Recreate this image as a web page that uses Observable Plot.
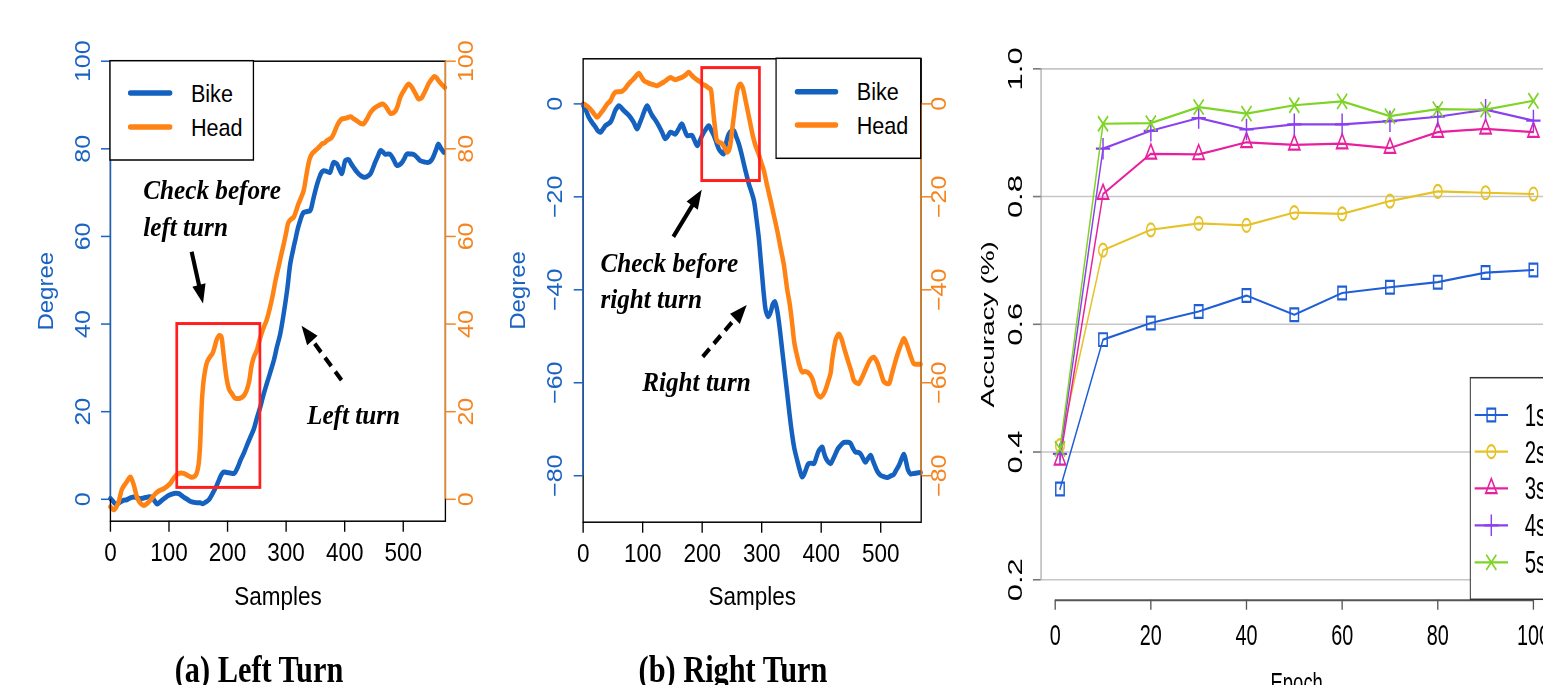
<!DOCTYPE html>
<html><head><meta charset="utf-8">
<script src="https://cdn.jsdelivr.net/npm/d3@7"></script>
<script src="https://cdn.jsdelivr.net/npm/@observablehq/plot@0.6"></script>
<style>
html,body{margin:0;padding:0;background:#fff;}
body{width:1543px;height:685px;overflow:hidden;position:relative;font-family:"Liberation Sans",Arial,Helvetica,sans-serif;}
.panel{position:absolute;top:0;transform-origin:0 0;}
.cap{position:absolute;top:651px;font-family:"Liberation Serif","Times New Roman",serif;font-weight:bold;font-size:37px;line-height:1;white-space:nowrap;transform:translateX(-50%) scaleX(0.82);}
</style></head><body>
<div id="pa" class="panel"></div>
<div id="pb" class="panel"></div>
<div id="pc" class="panel"></div>
<div class="cap" style="left:259px">(a) Left Turn</div>
<div class="cap" style="left:733px">(b) Right Turn</div>
<script>
// ================= DATA =================
const seriesAB = ["Bike", "Head"];
const sampleTicks = [0, 100, 200, 300, 400, 500];
const degreeTicksA = [0, 20, 40, 60, 80, 100];
const degreeTicksB = [-80, -60, -40, -20, 0];
const xDomainA = [0, 572], yDomainA = [-5, 100];
const xDomainB = [0, 568], yDomainB = [-90, 9.7];

// (a) Left turn: [sample, degree]
const bikeA = [[0,0.2],[4,-0.4],[8,-1],[13,-0.9],[17,-0.6],[23,-0.2],[28,-0.1],[34,0.3],[40,0.5],[46,0.3],[51,0.15],[57,0.3],[63,0.5],[67,0.6],[71,0.5],[75,-0.3],[80,-1.1],[84,-0.7],[88,-0.2],[94,0.4],[100,0.9],[105,1.2],[111,1.4],[117,1.3],[121,0.9],[125,0.5],[131,0],[137,-0.5],[143,-0.7],[148,-0.8],[153,-0.8],[158,-1],[163,-0.6],[168,-0.1],[172,0.7],[176,1.7],[181,3],[185,4.3],[189,5.5],[193,6.2],[199,6.1],[205,6],[211,5.9],[217,7.2],[222,8.9],[228,10.6],[233,12.3],[239,14.2],[245,16.1],[250,18.5],[256,21.1],[261,23.7],[267,26.4],[273,29],[279,31.7],[284,34.6],[290,37.8],[296,42.5],[302,48],[307,53.7],[312,57],[316,59.4],[320,61.8],[324,63.6],[327,64.8],[330,65.5],[336,65.7],[341,65.9],[346,68.3],[350,70.5],[354,72.4],[358,73.9],[361,74.7],[364,75],[370,74.8],[375,74.6],[378,75.8],[381,76.9],[384,76.8],[387,76.5],[391,75.3],[395,74.3],[398,75.7],[401,77.3],[404,77.5],[407,77.5],[411,76.6],[415,75.8],[421,74.7],[427,73.9],[431,73.6],[435,73.5],[440,73.8],[444,74.3],[448,75.5],[452,76.9],[457,78.4],[461,79.6],[465,79.3],[469,78.8],[474,78.8],[478,78.7],[484,77.4],[489,76.2],[494,76.4],[498,76.9],[502,77.8],[506,78.8],[512,78.8],[518,78.7],[524,78],[529,77.3],[536,77],[543,76.9],[548,77.4],[552,78.4],[556,79.8],[560,81.1],[564,80.2],[569,79.2]];
const headA = [[0,-1.7],[6,-2.4],[13,-1],[20,2.4],[28,4],[34,5.1],[40,3.2],[46,0.2],[52,-1],[57,-1.4],[63,-0.9],[68,-0.2],[77,1.3],[84,2],[91,2.4],[97,3],[102,3.6],[108,4.8],[114,5.7],[120,6],[125,5.9],[131,5.5],[137,5.1],[142,5.1],[146,5.6],[150,7.5],[153,12],[155,18.8],[157,24],[160,28],[165,31.3],[170,32.5],[174,33.2],[178,34.8],[182,36.6],[186,37.4],[189,37.2],[192,34.5],[195,31],[199,27.1],[203,25],[208,24],[212,23.2],[216,23],[222,23.1],[228,23.7],[233,25],[237,27],[241,30.5],[245,32.5],[250,34],[254,36],[258,37.8],[262,39.3],[267,41],[272,43.5],[277,46.5],[282,50],[287,53],[292,56],[296,58.3],[300,60.8],[304,63.2],[309,64],[313,64.4],[317,65.8],[321,67.4],[326,69],[330,70.5],[334,73.5],[338,76.5],[341,78],[345,79],[349,79.5],[353,80],[357,80.5],[361,81.1],[365,81.3],[370,81.9],[374,82.2],[378,82.6],[383,84],[387,85.3],[391,86.2],[395,86.8],[402,87],[410,87.3],[416,86.8],[421,86.4],[427,85.8],[432,85.7],[438,86.8],[444,88.3],[451,89.3],[458,89.9],[466,90.2],[472,89.3],[478,88.1],[483,88.2],[487,88.7],[491,90],[495,91.8],[502,93.5],[509,94.8],[514,94.2],[518,93.3],[522,92.3],[526,91.4],[531,91.6],[535,92.5],[539,93.6],[543,94.8],[548,95.8],[553,96.5],[557,96.2],[560,95.6],[565,94.8],[571,94]];

// (b) Right turn: [sample, degree]
const bikeB = [[0,-0.3],[5,-1.5],[9.5,-2.9],[15,-4],[20.7,-5],[25,-5.8],[29,-6.1],[33,-5.5],[37.5,-4.7],[42,-4.3],[46,-3.9],[50,-2.8],[54,-1.4],[57,-0.8],[60,-0.4],[64,-0.8],[68,-1.4],[74,-2.1],[79.5,-2.9],[85,-4],[90.8,-5.4],[95,-4.2],[99,-2.9],[103,-1.5],[107.6,-0.4],[112,-1.5],[116,-2.5],[122,-3.6],[127,-4.7],[133,-6.2],[138,-7.5],[142,-7],[146.8,-6.1],[151,-6.3],[155,-6.5],[160,-5.5],[166,-4.3],[170,-5.5],[174.8,-6.8],[179,-6.8],[183,-6.8],[187,-7.8],[191.6,-9],[196,-8],[200,-6.8],[205,-5.7],[211,-4.7],[215,-5.6],[219.6,-6.8],[224,-8.3],[228,-9.7],[232,-10.4],[236,-10.8],[240,-8.5],[244.8,-6.5],[249,-5.8],[253,-5.7],[257,-7],[261.6,-8.6],[266,-10.7],[270,-12.9],[274,-15],[278.4,-17.2],[283,-19],[287,-20.8],[291,-24.5],[295,-28.7],[298,-33],[301,-37.3],[304,-41.5],[307,-44.5],[311,-45.8],[315,-44.8],[319,-43],[322,-42.5],[326,-44.4],[330,-48],[334.5,-53],[339,-58],[343,-62.4],[347,-67],[351,-71],[355,-74.2],[359.7,-76.7],[364,-78.8],[368,-80.3],[371,-79.8],[373.7,-78.9],[379,-77.4],[384,-77.3],[387.7,-77.4],[392,-76],[396,-74.6],[401.7,-73.8],[404,-74.8],[407,-76],[411,-76.9],[415.7,-77.4],[420,-76.4],[424,-75.3],[428,-74.2],[432.5,-73.5],[437,-72.9],[441,-72.8],[445,-72.8],[449,-73],[453,-74],[457.7,-74.9],[462,-75],[466,-75.3],[470,-76.2],[474.5,-77.1],[479,-76.2],[483,-75.6],[487,-76.8],[491,-78.1],[495,-79.2],[499.7,-79.9],[505,-80.2],[511,-80.4],[516,-80.1],[522,-79.7],[526,-78.8],[530.5,-77.8],[535,-76.4],[539,-75.4],[543,-77.2],[546,-78.8],[550,-79.6],[556,-79.5],[561,-79.4],[567,-79.3]];
const headB = [[0,0],[6,-0.4],[12,-1.1],[18,-2.1],[23.5,-2.9],[29,-2.1],[35,-1.1],[40,-0.1],[46,0.7],[50,1.8],[54,2.5],[60,2.6],[65,2.7],[70,3.2],[74,3.9],[80,4.8],[85,5.4],[89,6],[93.6,6.6],[98,5.8],[102,5],[108,4.6],[113,4.3],[119,4.1],[124,3.9],[130,4.3],[135.6,4.7],[141,5.2],[147,5.7],[151,5.4],[155,5.2],[161,5.5],[166,5.7],[172,6.2],[177.6,6.8],[182,6.2],[186,5.7],[192,5.1],[197,4.7],[201,4.2],[206,3.9],[210,3.5],[214,3.2],[217,0.5],[219.6,-2.9],[222,-5.5],[225,-7.9],[229,-8.3],[233.6,-8.6],[238,-9.5],[242,-10.4],[245,-10],[247.6,-8.6],[250,-6],[253,-2.9],[256,0.2],[259,2.9],[262,4],[264.4,4.3],[268,3.5],[273,0.7],[277,-1.8],[281,-4.3],[285,-6.8],[289.6,-9],[295,-10.8],[299,-12.5],[303.6,-14.3],[309,-17.5],[315,-20.8],[320,-23.7],[326,-27.2],[331,-30.5],[337,-34.4],[343,-40],[347,-43],[351,-47],[355,-51.5],[360,-54.5],[364,-56.5],[368,-57.7],[372,-57.6],[376.5,-57.7],[381,-58.2],[385,-59.1],[389,-60.8],[393,-62.4],[399,-63.1],[403,-62.6],[407,-61.6],[411,-60],[415.7,-58],[418,-55.5],[421,-53],[425,-50.5],[429.7,-49.5],[434,-50.5],[438,-52.3],[442,-54],[446.5,-55.9],[451,-57.7],[455,-59.5],[459,-60],[463,-60.2],[467,-59.3],[471.7,-58],[476,-56.7],[480,-55.6],[484,-54.8],[488.5,-54.5],[493,-55.3],[497,-56.6],[501,-58.2],[505,-59.7],[509,-60.1],[513.7,-60.2],[518,-58.5],[522,-56.6],[526,-54.8],[530.5,-53],[535,-51.5],[539,-50.5],[543,-51.5],[547,-53],[551,-54.5],[555.7,-55.9],[561,-56],[567,-56]];

// annotations (data units)
const boxA = [{x1: 114, x2: 256, y1: 2.6, y2: 40}];
const boxB = [{x1: 200, x2: 297, y1: -16.6, y2: 7.7}];
const notesA = [{x: 56, y: 68.6, text: "Check before"}, {x: 56, y: 60.2, text: "left turn"}, {x: 335.7, y: 17.1, text: "Left turn"}];
const notesB = [{x: 29, y: -36.2, text: "Check before"}, {x: 29, y: -44, text: "right turn"}, {x: 99.2, y: -61.8, text: "Right turn"}];
const arrowsA = [{x1: 139.4, y1: 56.4, x2: 158.9, y2: 44.6, dashed: false}, {x1: 395.4, y1: 27.1, x2: 327.1, y2: 39.5, dashed: true}];
const arrowsB = [{x1: 152.3, y1: -28.7, x2: 200, y2: -18.6, dashed: false}, {x1: 201.7, y1: -54.5, x2: 275.6, y2: -43.4, dashed: true}];

// (c) accuracy vs epoch
const windows = ["1s", "2s", "3s", "4s", "5s"];
const epochs = [1, 10, 20, 30, 40, 50, 60, 70, 80, 90, 100];
const acc1s = [0.342, 0.576, 0.602, 0.620, 0.645, 0.615, 0.649, 0.658, 0.666, 0.681, 0.685];
const acc2s = [0.410, 0.716, 0.748, 0.758, 0.755, 0.775, 0.773, 0.793, 0.808, 0.806, 0.804];
const acc3s = [0.388, 0.804, 0.867, 0.866, 0.885, 0.881, 0.883, 0.876, 0.901, 0.906, 0.901];
const acc4s = [0.397, 0.875, 0.903, 0.923, 0.905, 0.913, 0.913, 0.918, 0.925, 0.936, 0.919];
const acc5s = [0.405, 0.914, 0.915, 0.940, 0.930, 0.943, 0.949, 0.926, 0.937, 0.936, 0.950];
const epochTicks = [0, 20, 40, 60, 80, 100];
const accTicks = [0.2, 0.4, 0.6, 0.8, 1.0];
const xDomainC = [-2.96, 103.96], yDomainC = [0.168, 1.032];

// ================= STYLE =================
const FONT = '"Liberation Sans", Arial, Helvetica, sans-serif';
const SERIF = '"Liberation Serif", "Times New Roman", serif';
const BIKE = "#1561bf", HEAD = "#ff8314", AXBLUE = "#1a63c2", AXORANGE = "#f5841f", RED = "#ff1f1f";
const COLORS_C = ["#1f5ed6", "#e6c229", "#e8209e", "#8a40ef", "#7dd424"];
const SYM_NAMES = ["square", "circle", "triangle2", "plus", "times"];
const SYM_D3 = [d3.symbolSquare, d3.symbolCircle, d3.symbolTriangle2, d3.symbolPlus, d3.symbolTimes];
const SYM_R = [7.2, 6.5, 8, 7, 7];
const SQ_AB = 0.9, SQ_C = 0.66;
const H = 685;
const fmt = d => (d < 0 ? "\u2212" + Math.abs(d) : String(d));

function arrowsMark(data) {
  return (index, scales) => {
    const g = d3.create("svg:g");
    for (const a of data) {
      const x1 = scales.x(a.x1), y1 = scales.y(a.y1), x2 = scales.x(a.x2), y2 = scales.y(a.y2);
      const ang = Math.atan2(y2 - y1, x2 - x1);
      const hl = 19, hw = 7.5;
      const bx = x2 - hl * Math.cos(ang), by = y2 - hl * Math.sin(ang);
      const px = -Math.sin(ang), py = Math.cos(ang);
      g.append("line").attr("x1", x1).attr("y1", y1).attr("x2", bx + 2 * Math.cos(ang)).attr("y2", by + 2 * Math.sin(ang))
        .attr("stroke", "black").attr("stroke-width", 4.5)
        .attr("stroke-dasharray", a.dashed ? "11,7" : null);
      g.append("path").attr("d", `M${x2},${y2}L${bx + hw * px},${by + hw * py}L${bx - hw * px},${by - hw * py}Z`).attr("fill", "black");
    }
    return g.node();
  };
}

function lineLegend(spec) {
  return (index, scales, values, dim) => {
    const g = d3.create("svg:g");
    const bx = spec.right ? dim.width - dim.marginRight - spec.w : dim.marginLeft;
    const by = dim.marginTop;
    g.append("rect").attr("x", bx).attr("y", by).attr("width", spec.w).attr("height", spec.h)
      .attr("fill", "white").attr("stroke", "black").attr("stroke-width", 1.5);
    seriesAB.forEach((name, i) => {
      const y = by + spec.rows[i];
      g.append("line").attr("x1", bx + spec.lx1).attr("x2", bx + spec.lx2).attr("y1", y).attr("y2", y)
        .attr("stroke", [BIKE, HEAD][i]).attr("stroke-width", 5.5).attr("stroke-linecap", "round");
      g.append("text").attr("x", bx + spec.tx).attr("y", y).attr("dy", "0.36em").attr("text-anchor", "start")
        .attr("font-size", 24).attr("fill", "black").text(name);
    });
    return g.node();
  };
}

function turnPanel(o) {
  return Plot.plot({
    width: o.width, height: H,
    marginLeft: o.left, marginRight: o.width - o.right, marginTop: o.top, marginBottom: H - o.bottom,
    x: {domain: o.xDomain}, y: {domain: o.yDomain},
    style: {background: "transparent", maxWidth: "none", overflow: "visible", fontFamily: FONT, color: "black"},
    marks: [
      Plot.line(o.bike, {x: d => d[0], y: d => d[1], stroke: BIKE, strokeWidth: 5, curve: "catmull-rom", strokeLinejoin: "round", strokeLinecap: "round"}),
      Plot.line(o.head, {x: d => d[0], y: d => d[1], stroke: HEAD, strokeWidth: 5, curve: "catmull-rom", strokeLinejoin: "round", strokeLinecap: "round"}),
      Plot.rect(o.box, {x1: "x1", x2: "x2", y1: "y1", y2: "y2", fill: "none", stroke: RED, strokeWidth: 3}),
      arrowsMark(o.arrows),
      Plot.text(o.notes, {x: "x", y: "y", text: "text", textAnchor: "start", lineAnchor: "bottom", fontFamily: SERIF, fontWeight: "bold", fontStyle: "italic", fontSize: 28, fill: "black"}),
      Plot.frame({stroke: "black", strokeWidth: 1.5}),
      Plot.ruleX([o.xDomain[0]], {y1: o.yTicks[0], y2: o.yTicks[o.yTicks.length - 1], stroke: AXBLUE, strokeWidth: 1.5}),
      Plot.ruleX([o.xDomain[1]], {y1: o.yTicks[0], y2: o.yTicks[o.yTicks.length - 1], stroke: AXORANGE, strokeWidth: 1.5}),
      Plot.axisY({anchor: "left", ticks: o.yTicks, tickSize: 10, stroke: AXBLUE, strokeWidth: 1.5, fill: "none", label: null}),
      Plot.axisY({anchor: "right", ticks: o.yTicks, tickSize: 11, stroke: AXORANGE, strokeWidth: 1.5, fill: "none", label: null}),
      Plot.text(o.yTicks, {y: d => d, text: fmt, frameAnchor: "left", dx: o.leftDx, rotate: -90, fill: AXBLUE, fontSize: 25, textAnchor: "middle", lineAnchor: "middle"}),
      Plot.text(o.yTicks, {y: d => d, text: fmt, frameAnchor: "right", dx: o.rightDx, rotate: -90, fill: AXORANGE, fontSize: 25, textAnchor: "middle", lineAnchor: "middle"}),
      Plot.axisX({ticks: sampleTicks, tickSize: 11, tickPadding: 11, fontSize: 25, strokeWidth: 1.5, label: null}),
      Plot.text(["Samples"], {text: d => d, frameAnchor: "bottom", dy: o.xLabelDy, fontSize: 25, textAnchor: "middle", lineAnchor: "middle", fill: "black"}),
      Plot.text(["Degree"], {text: d => d, frameAnchor: "left", dx: o.yLabelDx, rotate: -90, fontSize: 24, fill: AXBLUE, textAnchor: "middle", lineAnchor: "middle"}),
      lineLegend(o.legend)
    ]
  });
}

function mount(id, el, left, width, sx) {
  const d = document.getElementById(id);
  d.style.left = left + "px";
  d.style.width = width + "px";
  d.style.transform = `scaleX(${sx})`;
  d.appendChild(el);
}

// ---------- panel (a) ----------
const WA = 540;
mount("pa", turnPanel({
  width: WA, left: 122.2, right: 494.4, top: 60.7, bottom: 520.7,
  xDomain: xDomainA, yDomain: yDomainA, yTicks: degreeTicksA,
  bike: bikeA, head: headA, box: boxA, notes: notesA, arrows: arrowsA,
  leftDx: -31.2, rightDx: 22.3, xLabelDy: 76, yLabelDx: -71.6,
  legend: {right: false, w: 159.4, h: 99.3, rows: [32.3, 66.3], lx1: 22.7, lx2: 66.6, tx: 89.9}
}), 0, WA, SQ_AB);

// ---------- panel (b) ----------
const WB = 545;
mount("pb", turnPanel({
  width: WB, left: 114.1, right: 489.7, top: 58.3, bottom: 521.7,
  xDomain: xDomainB, yDomain: yDomainB, yTicks: degreeTicksB,
  bike: bikeB, head: headB, box: boxB, notes: notesB, arrows: arrowsB,
  leftDx: -31.9, rightDx: 19.5, xLabelDy: 75, yLabelDx: -72.4,
  legend: {right: true, w: 160.8, h: 100, rows: [33.4, 66.7], lx1: 23.6, lx2: 66.4, tx: 89.7}
}), 480, WB, SQ_AB);

// ---------- panel (c) ----------
const accSeries = [acc1s, acc2s, acc3s, acc4s, acc5s];
const accRows = windows.flatMap((w, i) => epochs.map((e, j) => ({window: w, epoch: e, acc: accSeries[i][j]})));
const WC = 930;
const legendC = {x: 773.2, y: 377.7, w: 220, h: 221.6, rows: [37.3, 74.0, 110.6, 147.6, 184.6], lx1: 6.6, lx2: 57.1, mx: 31.8, tx: 82.4};
function symbolLegend(spec) {
  return () => {
    const g = d3.create("svg:g");
    g.append("rect").attr("x", spec.x).attr("y", spec.y).attr("width", spec.w).attr("height", spec.h)
      .attr("fill", "white").attr("stroke", "#333").attr("stroke-width", 1.5);
    windows.forEach((w, i) => {
      const cy = spec.y + spec.rows[i];
      g.append("line").attr("x1", spec.x + spec.lx1).attr("x2", spec.x + spec.lx2).attr("y1", cy).attr("y2", cy)
        .attr("stroke", COLORS_C[i]).attr("stroke-width", 2.2);
      g.append("path").attr("transform", `translate(${spec.x + spec.mx},${cy})`)
        .attr("d", d3.symbol(SYM_D3[i], Math.PI * SYM_R[i] * SYM_R[i])())
        .attr("fill", "none").attr("stroke", COLORS_C[i]).attr("stroke-width", 2.2);
      g.append("text").attr("x", spec.x + spec.tx).attr("y", cy).attr("dy", "0.36em").attr("text-anchor", "start")
        .attr("font-size", 31).attr("fill", "black").text(w);
    });
    return g.node();
  };
}
const seriesMarks = windows.flatMap((w, i) => {
  const rows = accRows.filter(r => r.window === w);
  return [
    Plot.line(rows, {x: "epoch", y: "acc", stroke: COLORS_C[i], strokeWidth: 2.2}),
    Plot.dot(rows, {x: "epoch", y: "acc", stroke: COLORS_C[i], fill: "none", symbol: SYM_NAMES[i], r: SYM_R[i], strokeWidth: 2.2})
  ];
});
const plotC = Plot.plot({
  width: WC, height: H,
  marginLeft: 122.3, marginRight: WC - 897, marginTop: 47.9, marginBottom: H - 599.7,
  x: {domain: xDomainC}, y: {domain: yDomainC},
  style: {background: "transparent", maxWidth: "none", overflow: "visible", fontFamily: FONT, color: "black"},
  marks: [
    Plot.ruleY(accTicks, {stroke: "#c6c6c6", strokeWidth: 1.6}),
    Plot.ruleX([xDomainC[0]], {y1: accTicks[0], y2: accTicks[accTicks.length - 1], stroke: "#9a9a9a", strokeWidth: 1.6}),
    Plot.axisY({anchor: "left", ticks: accTicks, tickSize: 11.7, stroke: "#777", strokeWidth: 1.6, fill: "none", label: null}),
    Plot.text(accTicks, {y: d => d, text: d => d.toFixed(1), frameAnchor: "left", dx: -38.2, rotate: -90, fontSize: 31, fill: "black", textAnchor: "middle", lineAnchor: "middle"}),
    Plot.ruleY([yDomainC[0]], {x1: epochTicks[0], x2: epochTicks[epochTicks.length - 1], stroke: "#555", strokeWidth: 2}),
    Plot.axisX({ticks: epochTicks, tickSize: 10, tickPadding: 13, fontSize: 30, stroke: "#555", strokeWidth: 2, label: null}),
    Plot.text(["Epoch"], {text: d => d, frameAnchor: "bottom", dy: 92, textAnchor: "middle", lineAnchor: "bottom", fontSize: 28, fill: "black"}),
    Plot.text(["Accuracy (%)"], {text: d => d, frameAnchor: "left", dx: -80.6, rotate: -90, fontSize: 28, fill: "black", textAnchor: "middle", lineAnchor: "middle"}),
    ...seriesMarks,
    symbolLegend(legendC)
  ]
});
mount("pc", plotC, 960, WC, SQ_C);
</script>
</body></html>
